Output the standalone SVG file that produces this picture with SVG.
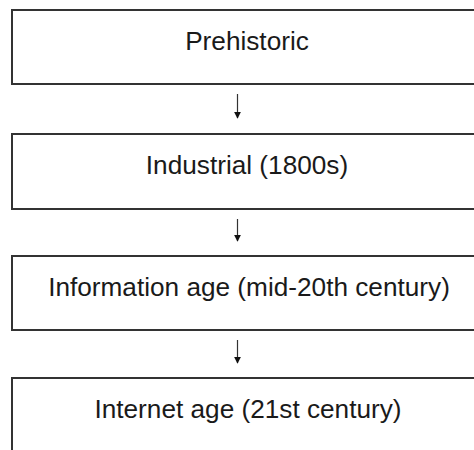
<svg xmlns="http://www.w3.org/2000/svg" width="474" height="450" viewBox="0 0 474 450">
<defs>
<style>
.box{fill:#fff;stroke:#333;stroke-width:2}
.lbl{font-family:"Liberation Sans",Arial,Helvetica,sans-serif;font-size:26.2px;fill:#1a1a1a;text-anchor:middle}
.conn{stroke:#333;stroke-width:1.2;fill:none}
</style>
<marker id="ah" viewBox="0 0 10 10" refX="9" refY="5" markerWidth="7" markerHeight="7" markerUnits="userSpaceOnUse" orient="auto">
<path d="M0,0 L10,5 L0,10 z" fill="#111"/>
</marker>
</defs>
<rect width="474" height="450" fill="#fff"/>
<g id="connectors">
<line class="conn" x1="237.5" y1="94" x2="237.5" y2="118" marker-end="url(#ah)"/>
<line class="conn" x1="237.5" y1="219" x2="237.5" y2="241" marker-end="url(#ah)"/>
<line class="conn" x1="237.5" y1="340" x2="237.5" y2="363" marker-end="url(#ah)"/>
</g>
<g id="prehistoric">
<rect class="box" x="12" y="10" width="470" height="74"/>
<text class="lbl" x="247" y="49.5">Prehistoric</text>
</g>
<g id="industrial">
<rect class="box" x="12" y="134" width="470" height="75"/>
<text class="lbl" x="247" y="173.5">Industrial (1800s)</text>
</g>
<g id="information">
<rect class="box" x="12" y="256" width="470" height="74"/>
<text class="lbl" x="249" y="296">Information age (mid-20th century)</text>
</g>
<g id="internet">
<rect class="box" x="12" y="378" width="470" height="90"/>
<text class="lbl" x="248" y="418">Internet age (21st century)</text>
</g>
</svg>
